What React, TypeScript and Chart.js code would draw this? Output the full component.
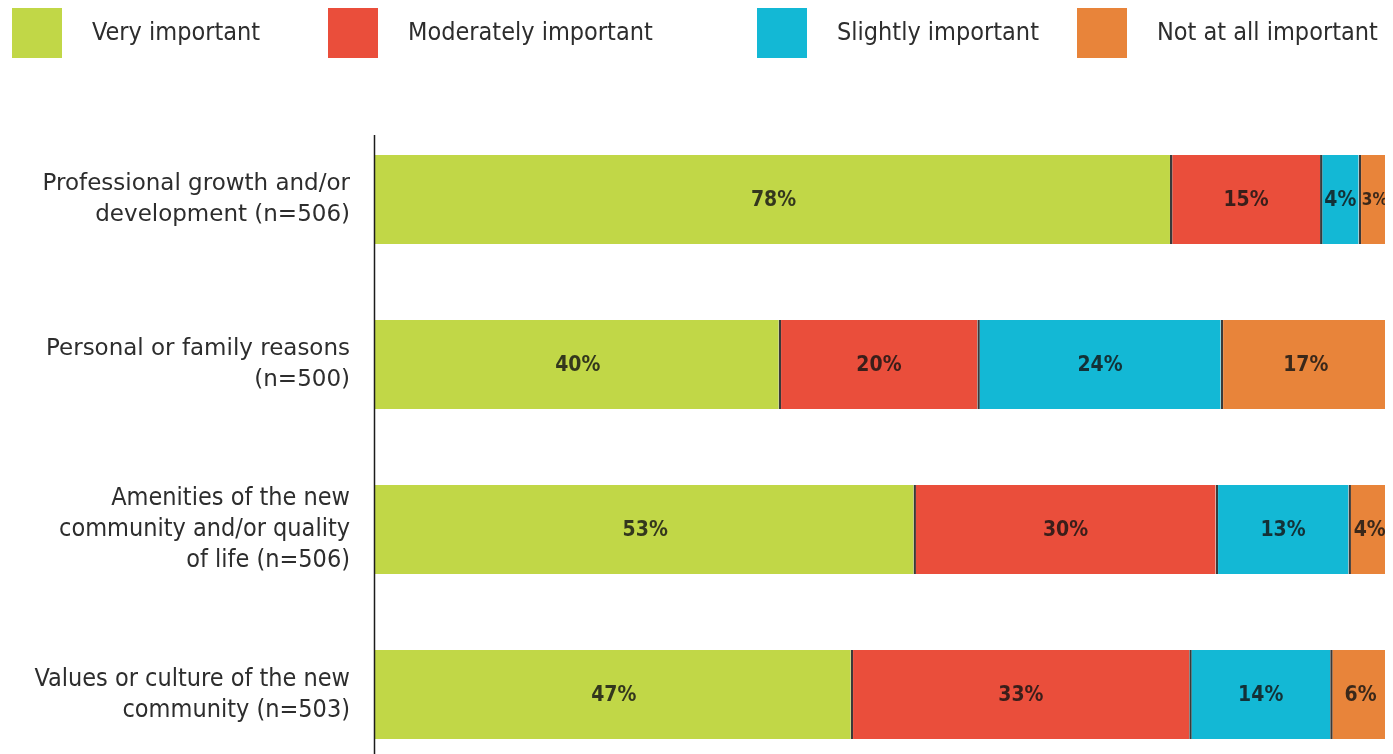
import React, { useEffect, useRef } from "react";
import { Chart, registerables } from "chart.js";

Chart.register(...registerables);

// ---- data ----
const categories: string[][] = [
  ["Professional growth and/or", "development (n=506)"],
  ["Personal or family reasons", "(n=500)"],
  ["Amenities of the new", "community and/or quality", "of life (n=506)"],
  ["Values or culture of the new", "community (n=503)"],
];
const seriesNames: string[] = [
  "Very important",
  "Moderately important",
  "Slightly important",
  "Not at all important",
];
const veryImportant: number[] = [78.4, 39.8, 53.1, 46.9];
const moderatelyImportant: number[] = [14.8, 19.6, 29.8, 33.4];
const slightlyImportant: number[] = [3.8, 24.0, 13.1, 13.9];
const notAtAllImportant: number[] = [3.0, 16.6, 4.0, 5.8];
const seriesColors: string[] = ["#C1D747", "#EA4E3B", "#13B8D5", "#E8843A"];

// ---- styling / layout constants ----
const WIDE = '"DejaVu Sans", "Noto Sans", sans-serif';
const COND = '"DejaVu Sans Condensed", "DejaVu Sans", sans-serif';
const TEXT = "#2d2d2d";
const legendSlots = [12, 328, 757, 1077];
const axisTopInset = 18;

const topLegend = {
  id: "topLegend",
  afterDraw(chart: any) {
    const ctx = chart.ctx;
    ctx.save();
    chart.data.datasets.forEach((ds: any, i: number) => {
      const x = legendSlots[i];
      ctx.fillStyle = ds.backgroundColor;
      ctx.fillRect(x, 8, 50, 50);
      ctx.fillStyle = TEXT;
      ctx.font = `25px ${COND}`;
      ctx.textAlign = "left";
      ctx.textBaseline = "middle";
      ctx.fillText(ds.label, x + 80, 33);
    });
    ctx.restore();
  },
};

const frameLines = {
  id: "frameLines",
  afterDraw(chart: any) {
    const { ctx, chartArea: a } = chart;
    const top = a.top + axisTopInset;
    ctx.save();
    ctx.strokeStyle = "#1c1c1c";
    ctx.lineWidth = 1.5;
    ctx.beginPath();
    ctx.moveTo(a.left - 0.5, top);
    ctx.lineTo(a.left - 0.5, a.bottom);
    ctx.stroke();
    ctx.strokeStyle = "#8c8c8c";
    ctx.lineWidth = 2;
    ctx.beginPath();
    ctx.moveTo(a.right + 1, top);
    ctx.lineTo(a.right + 1, a.bottom);
    ctx.stroke();
    ctx.restore();
  },
};

const valueLabels = {
  id: "valueLabels",
  afterDatasetsDraw(chart: any) {
    const ctx = chart.ctx;
    ctx.save();
    ctx.textAlign = "center";
    ctx.textBaseline = "middle";
    chart.data.datasets.forEach((ds: any, di: number) => {
      const meta = chart.getDatasetMeta(di);
      meta.data.forEach((el: any, i: number) => {
        const v = ds.data[i] as number;
        const { x, y, base } = el.getProps(["x", "y", "base"], true);
        const w = Math.abs(x - base);
        const text = Math.round(v) + "%";
        let size = 21;
        ctx.font = `bold ${size}px ${COND}`;
        while (ctx.measureText(text).width > w - 4 && size > 9) {
          size -= 1;
          ctx.font = `bold ${size}px ${COND}`;
        }
        ctx.fillStyle = "rgba(20,20,20,0.82)";
        ctx.fillText(text, (x + base) / 2 + 1, y + 1);
      });
    });
    ctx.restore();
  },
};

export default function App() {
  const ref = useRef<HTMLCanvasElement | null>(null);

  useEffect(() => {
    if (!ref.current) return;
    const values = [veryImportant, moderatelyImportant, slightlyImportant, notAtAllImportant];
    const chart = new Chart(ref.current, {
      type: "bar",
      data: {
        labels: categories as any,
        datasets: seriesNames.map((name, i) => ({
          label: name,
          data: values[i],
          backgroundColor: seriesColors[i],
          borderColor: "#3a3a3a",
          borderWidth: i === 0 ? 0 : { left: 2.5, right: 0, top: 0, bottom: 0 },
          borderSkipped: false,
          categoryPercentage: 1,
          barPercentage: 0.54,
        })),
      },
      options: {
        indexAxis: "y",
        animation: false,
        responsive: true,
        maintainAspectRatio: false,
        devicePixelRatio: 1,
        layout: { padding: { top: 117, bottom: 3, left: 0, right: 4 } },
        plugins: {
          legend: { display: false },
          tooltip: { enabled: false },
        },
        scales: {
          x: {
            stacked: true,
            display: false,
            min: 0,
            max: 100,
          },
          y: {
            stacked: true,
            grid: { display: false, drawTicks: false },
            border: { display: false },
            afterFit: (s: any) => {
              s.width = 375;
              s.paddingTop = 0;
              s.paddingBottom = 0;
            },
            ticks: {
              color: TEXT,
              padding: 25,
              font: (c: any) =>
                c.index < 2
                  ? { family: WIDE, size: 23, lineHeight: 31 / 23 }
                  : { family: COND, size: 25, lineHeight: 31 / 25 },
            },
          },
        },
      },
      plugins: [valueLabels, frameLines, topLegend],
    });
    return () => chart.destroy();
  }, []);

  return (
    <div style={{ margin: -8, width: 1393, background: "#fff" }}>
      <div style={{ position: "relative", width: 1393, height: 780 }}>
        <canvas ref={ref} />
      </div>
    </div>
  );
}
